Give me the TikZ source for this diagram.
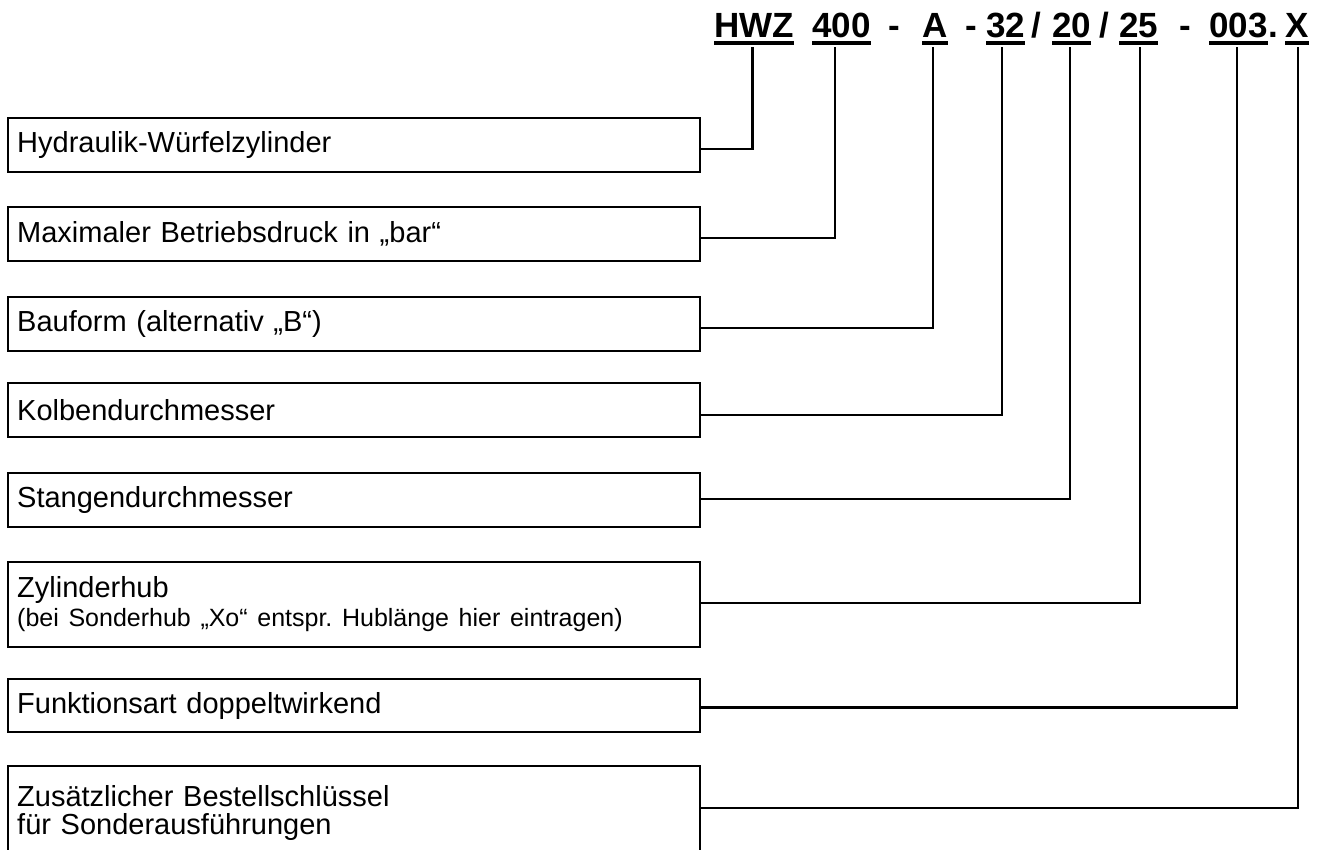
\documentclass[tikz,border=0pt]{standalone}
\usepackage{fontspec}
\setmainfont{Liberation Sans}
\frenchspacing
\begin{document}
\begin{tikzpicture}[x=1pt,y=-1pt,
  box/.style={draw,line width=2.4pt,anchor=north west,minimum width=692pt,inner xsep=9pt,inner ysep=0pt,
    text width=674pt,align=left,font=\fontsize{29}{33}\selectfont},
  tok/.style={anchor=base west,inner sep=0pt,font=\fontsize{35}{40}\selectfont\bfseries},
  ul/.style={line width=4pt},
  conn/.style={line width=2.3pt}]
\useasboundingbox (0,0) rectangle (1320,849);
\clip (0,0) rectangle (1320,849);
% title tokens
\node[tok] (hwz) at (714,37.3) {HWZ};
\node[tok] (p400) at (812,37.3) {400};
\node[tok] (d1) at (888,37.3) {-};
\node[tok] (pa) at (922,37.3) {A};
\node[tok] (d2) at (965,37.3) {-};
\node[tok] (p32) at (986,37.3) {32};
\node[tok] (s1) at (1031,37.3) {/};
\node[tok] (p20) at (1052,37.3) {20};
\node[tok] (s2) at (1099,37.3) {/};
\node[tok] (p25) at (1119,37.3) {25};
\node[tok] (d3) at (1179,37.3) {-};
\node[tok] (p003) at (1209,37.3) {003};
\node[tok] (dot) at (p003.base east) {.};
\node[tok] (px) at (1285,37.3) {X};
\foreach \n in {hwz,p400,pa,p32,p20,p25,p003,px}
  \draw[ul] ([yshift=-5.4pt]\n.base west) -- ([yshift=-5.4pt]\n.base east);
% boxes
\node[box,minimum height=54pt] (b1) at (7,116.7) {Hydraulik-Würfelzylinder};
\node[box,minimum height=54.5pt] (b2) at (7,205.5) {Maximaler Betriebsdruck in „bar“};
\node[box,minimum height=54pt] (b3) at (7,296) {Bauform (alternativ „B“)};
\node[box,minimum height=54pt] (b4) at (7,382) {Kolbendurchmesser};
\node[box,minimum height=53.5pt] (b5) at (7,472) {Stangendurchmesser};
\node[box,minimum height=84.5pt] (b6) at (7,561) {Zylinderhub\\[-4pt]{\fontsize{25}{28}\selectfont (bei Sonderhub „Xo“ entspr. Hublänge hier eintragen)}};
\node[box,minimum height=53.4pt] (b7) at (7,677.6) {Funktionsart doppeltwirkend};
\node[box,minimum height=94pt] (b8) at (7,764.6) {Zusätzlicher Bestellschlüssel\\[-5pt]für Sonderausführungen};
% connector corners and tick tops
\coordinate (c1) at (752.5,149);  \coordinate (t1) at (752.5,47);
\coordinate (c2) at (835,238);    \coordinate (t2) at (835,47);
\coordinate (c3) at (933,328);    \coordinate (t3) at (933,47);
\coordinate (c4) at (1001.7,415); \coordinate (t4) at (1001.7,47);
\coordinate (c5) at (1070,499);   \coordinate (t5) at (1070,47);
\coordinate (c6) at (1140,603);   \coordinate (t6) at (1140,47);
\coordinate (c7) at (1236.7,707.5); \coordinate (t7) at (1236.7,47);
\coordinate (c8) at (1298,808);   \coordinate (t8) at (1298,47);
\foreach \i in {1,...,8}
  \draw[conn] (b\i.east |- c\i) -- (c\i) -- (t\i);
\end{tikzpicture}
\end{document}
